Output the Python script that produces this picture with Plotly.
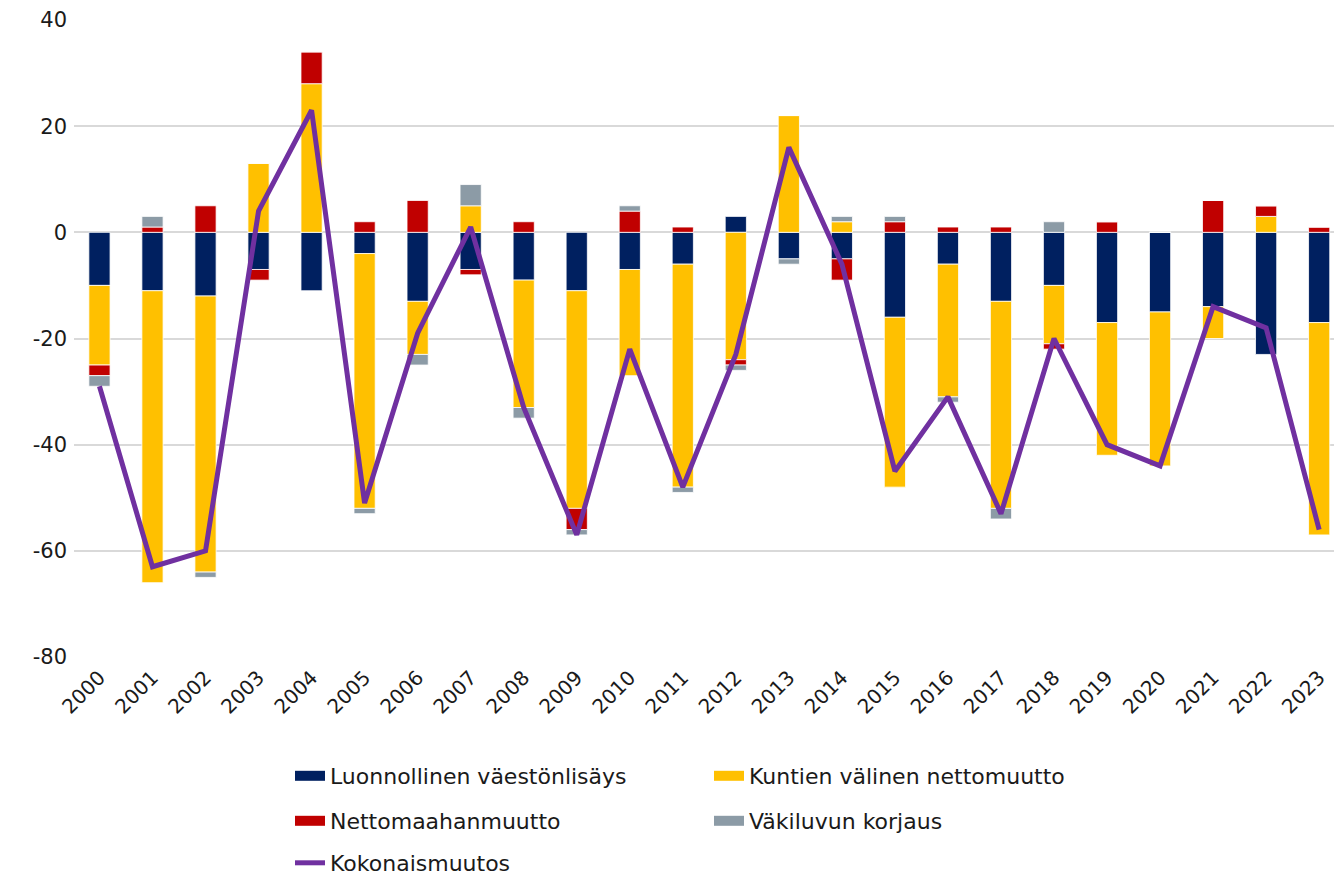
import plotly.graph_objects as go

years = [str(y) for y in range(2000, 2024)]

# Luonnollinen väestönlisäys
natural = [-10, -11, -12, -7, -11, -4, -13, -7, -9, -11, -7, -6,
           3, -5, -5, -16, -6, -13, -10, -17, -15, -14, -23, -17]
# Kuntien välinen nettomuutto
domestic = [-15, -55, -52, 13, 28, -48, -10, 5, -24, -41, -20, -42,
            -24, 22, 2, -32, -25, -39, -11, -25, -29, -6, 3, -40]
# Nettomaahanmuutto
immigration = [-2, 1, 5, -2, 6, 2, 6, -1, 2, -4, 4, 1,
               -1, 0, -4, 2, 1, 1, -1, 2, 0, 6, 2, 1]
# Väkiluvun korjaus
correction = [-2, 2, -1, 0, 0, -1, -2, 4, -2, -1, 1, -1,
              -1, -1, 1, 1, -1, -2, 2, 0, 0, 0, 0, 0]
# Kokonaismuutos
total = [-29, -63, -60, 4, 23, -51, -19, 1, -33, -57, -22, -48,
         -23, 16, -6, -45, -31, -53, -20, -40, -44, -14, -18, -56]

y_ticks = [-80, -60, -40, -20, 0, 20, 40]
y_ticktext = ["-80", "-60", "-40", "-20", "0", "20", "40"]

names = ["Luonnollinen väestönlisäys", "Kuntien välinen nettomuutto",
         "Nettomaahanmuutto", "Väkiluvun korjaus"]
colors = ["#002060", "#FFC000", "#C00000", "#8C9BA6"]
line_color = "#7030A0"
font_family = "DejaVu Sans"
text_color = "#1a1a1a"

fig = go.Figure()

for name, vals, col in zip(names, [natural, domestic, immigration, correction], colors):
    fig.add_trace(go.Bar(
        x=years, y=vals, name=name,
        marker=dict(color=col, line=dict(color="white", width=0.8)),
        showlegend=False,
    ))

fig.add_trace(go.Scatter(
    x=years, y=total, name="Kokonaismuutos", mode="lines",
    line=dict(color=line_color, width=5),
    showlegend=False,
))

# legend entries (wide swatches like the original)
legend_ids = ["legend", "legend", "legend2", "legend2"]
for name, col, lg in zip(names, colors, legend_ids):
    fig.add_trace(go.Scatter(
        x=[None], y=[None], name=name, mode="lines",
        line=dict(color=col, width=14), legend=lg,
    ))
fig.add_trace(go.Scatter(
    x=[None], y=[None], name="Kokonaismuutos", mode="lines",
    line=dict(color=line_color, width=5), legend="legend3",
))

leg_common = dict(
    orientation="h", xref="container", yref="container",
    x=290 / 1334, xanchor="left", yanchor="middle",
    entrywidth=374, entrywidthmode="pixels",
    font=dict(family=font_family, size=22, color=text_color),
    bgcolor="rgba(0,0,0,0)",
)

fig.update_layout(
    width=1334, height=876,
    margin=dict(l=74, r=0, t=19.5, b=219),
    paper_bgcolor="white", plot_bgcolor="white",
    barmode="relative", bargap=0.6,
    font=dict(family=font_family, size=20, color=text_color),
    legend=dict(leg_common, y=1 - 776 / 876),
    legend2=dict(leg_common, y=1 - 821 / 876),
    legend3=dict(leg_common, y=1 - 863 / 876),
)

fig.update_xaxes(
    type="category", range=[-0.48, 23.28],
    tickangle=-45, showgrid=False, zeroline=False, showline=False,
    ticks="", ticklabelstandoff=4,
    tickfont=dict(family=font_family, size=20, color=text_color),
)
fig.update_yaxes(
    range=[-80, 40], tickvals=y_ticks, ticktext=y_ticktext,
    showgrid=True, gridcolor="#D9D9D9", gridwidth=1.5,
    zeroline=True, zerolinecolor="#D9D9D9", zerolinewidth=1.5, showline=False,
    ticks="", ticklabelstandoff=6,
    tickfont=dict(family=font_family, size=21, color=text_color),
)

fig.write_html(
    "out.html",
    config={"displayModeBar": False},
    post_script="document.body.style.margin='0';document.body.style.overflow='hidden';",
)
